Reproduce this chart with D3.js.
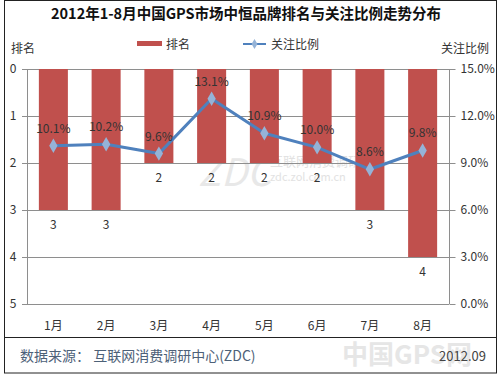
<!DOCTYPE html>
<html>
<head>
<meta charset="utf-8">
<script src="https://cdn.jsdelivr.net/npm/d3@7"></script>
<style>
  body { margin: 0; background: #fff; }
  svg { display: block; }
  text { font-family: "Noto Sans CJK SC", "DejaVu Sans", sans-serif; }
</style>
</head>
<body>
<svg id="chart" width="500" height="375"></svg>
<script>
// chart data
var months = ["1月", "2月", "3月", "4月", "5月", "6月", "7月", "8月"];
var ranks = [3, 3, 2, 2, 2, 2, 3, 4];
var shares = [10.1, 10.2, 9.6, 13.1, 10.9, 10.0, 8.6, 9.8];
var rankTicks = [0, 1, 2, 3, 4, 5];
var shareTicks = [0, 3, 6, 9, 12, 15];

var barColor = "#c0504d";
var lineColor = "#4f81bd";
var markColor = "#95b3d7";
var gridColor = "#8e8e8e";

// plot box (window.top is reserved, so no "top" here)
var plotL = 27, plotR = 449, plotT = 69, plotB = 304;

var svg = d3.select("#chart");

// frame
svg.append("rect")
  .attr("x", 4.5).attr("y", 0.5).attr("width", 492).attr("height", 372.5)
  .attr("fill", "none").attr("stroke", "#222").attr("stroke-width", 1);
svg.append("line")
  .attr("x1", 4.5).attr("x2", 496.5).attr("y1", 337.5).attr("y2", 337.5)
  .attr("stroke", "#222");

// title
svg.append("text")
  .attr("x", 246).attr("y", 19)
  .attr("text-anchor", "middle")
  .attr("font-size", 15).attr("font-weight", "bold").attr("fill", "#111")
  .attr("textLength", 390).attr("lengthAdjust", "spacingAndGlyphs")
  .text("2012年1-8月中国GPS市场中恒品牌排名与关注比例走势分布");

var x = d3.scaleBand().domain(months).range([plotL, plotR]).paddingInner(0.45).paddingOuter(0.225);
var yRank = d3.scaleLinear().domain([0, 5]).range([plotT, plotB]);
var yShare = d3.scaleLinear().domain([0, 15]).range([plotB, plotT]);

// watermarks
svg.append("text").attr("x", 198).attr("y", 186)
  .attr("font-size", 38).attr("font-family", "DejaVu Sans").attr("fill", "#e8e8e8")
  .attr("font-style", "italic").text("ZDC");
svg.append("text").attr("x", 270).attr("y", 166)
  .attr("font-size", 13).attr("fill", "#e2e2e2").text("互联网消费调研中心");
svg.append("text").attr("x", 270).attr("y", 181)
  .attr("font-size", 11).attr("fill", "#e2e2e2").text("zdc.zol.com.cn");

// grid
svg.append("g")
  .selectAll("line")
  .data(rankTicks)
  .enter().append("line")
  .attr("x1", plotL - 5).attr("x2", plotR)
  .attr("y1", function(d) { return Math.round(yRank(d)) + 0.5; })
  .attr("y2", function(d) { return Math.round(yRank(d)) + 0.5; })
  .attr("stroke", gridColor).attr("stroke-width", 1);

// bars
svg.append("g")
  .selectAll("rect")
  .data(ranks)
  .enter().append("rect")
  .attr("x", function(d, i) { return x(months[i]); })
  .attr("y", yRank(0))
  .attr("width", x.bandwidth())
  .attr("height", function(d) { return yRank(d) - yRank(0); })
  .attr("fill", barColor);

// axes
var leftAxis = svg.append("g").attr("transform", "translate(" + (plotL + 0.5) + ",0)")
  .call(d3.axisLeft(yRank).tickValues(rankTicks).tickSize(5).tickPadding(6)
    .tickFormat(d3.format("d")));
var rightAxis = svg.append("g").attr("transform", "translate(" + (plotR + 0.5) + ",0)")
  .call(d3.axisRight(yShare).tickValues(shareTicks).tickSize(6).tickPadding(5)
    .tickFormat(function(d) { return d.toFixed(1) + "%"; }));
[leftAxis, rightAxis].forEach(function(a) {
  a.selectAll("path, line").attr("stroke", gridColor);
  a.selectAll("text").attr("font-family", "DejaVu Sans").attr("font-size", 12).attr("fill", "#333");
});
leftAxis.select(".domain").attr("d", "M0," + plotT + "V" + plotB);
rightAxis.select(".domain").attr("d", "M0," + plotT + "V" + plotB);

// x labels
svg.append("g")
  .selectAll("text")
  .data(months)
  .enter().append("text")
  .attr("x", function(d) { return x(d) + x.bandwidth() / 2; })
  .attr("y", 330)
  .attr("text-anchor", "middle")
  .attr("font-size", 12).attr("fill", "#333")
  .text(function(d) { return d; });

// rank labels
svg.append("g")
  .selectAll("text")
  .data(ranks)
  .enter().append("text")
  .attr("x", function(d, i) { return x(months[i]) + x.bandwidth() / 2; })
  .attr("y", function(d) { return yRank(d) + 19; })
  .attr("text-anchor", "middle")
  .attr("font-family", "DejaVu Sans")
  .attr("font-size", 12).attr("fill", "#333")
  .text(function(d) { return d; });

// line
var line = d3.line()
  .x(function(d, i) { return x(months[i]) + x.bandwidth() / 2; })
  .y(function(d) { return yShare(d); });
svg.append("path")
  .datum(shares)
  .attr("d", line)
  .attr("fill", "none").attr("stroke", lineColor).attr("stroke-width", 3)
  .attr("stroke-linejoin", "round");

svg.append("g")
  .selectAll("path")
  .data(shares)
  .enter().append("path")
  .attr("d", d3.symbol().type(d3.symbolDiamond).size(60))
  .attr("transform", function(d, i) {
    return "translate(" + (x(months[i]) + x.bandwidth() / 2) + "," + yShare(d) + ")";
  })
  .attr("fill", markColor);

// share labels
svg.append("g")
  .selectAll("text")
  .data(shares)
  .enter().append("text")
  .attr("x", function(d, i) { return x(months[i]) + x.bandwidth() / 2; })
  .attr("y", function(d) { return yShare(d) - 13; })
  .attr("text-anchor", "middle")
  .attr("font-family", "DejaVu Sans")
  .attr("font-size", 12).attr("fill", "#333")
  .text(function(d) { return d.toFixed(1) + "%"; });

// legend
svg.append("rect").attr("x", 137).attr("y", 41).attr("width", 25).attr("height", 5).attr("fill", barColor);
svg.append("text").attr("x", 166).attr("y", 49).attr("font-size", 12).attr("fill", "#333").text("排名");
svg.append("line").attr("x1", 243).attr("x2", 266).attr("y1", 44).attr("y2", 44)
  .attr("stroke", lineColor).attr("stroke-width", 2);
svg.append("path").attr("d", d3.symbol().type(d3.symbolDiamond).size(30))
  .attr("transform", "translate(254.5,44)").attr("fill", markColor);
svg.append("text").attr("x", 271).attr("y", 49).attr("font-size", 12).attr("fill", "#333").text("关注比例");

// axis titles
svg.append("text").attr("x", 11).attr("y", 53).attr("font-size", 12).attr("fill", "#333").text("排名");
svg.append("text").attr("x", 489).attr("y", 53).attr("text-anchor", "end")
  .attr("font-size", 12).attr("fill", "#333").text("关注比例");

// footer
svg.append("text").attr("x", 20).attr("y", 361).attr("font-size", 14).attr("fill", "#4d6178")
  .text("数据来源： 互联网消费调研中心(ZDC)");
svg.append("text").attr("x", 342).attr("y", 364).attr("font-size", 26).attr("font-weight", "bold")
  .attr("fill", "#e6e6e6").text("中国GPS网");
svg.append("text").attr("x", 486).attr("y", 361).attr("text-anchor", "end")
  .attr("font-family", "Liberation Serif").attr("font-size", 13).attr("fill", "#444")
  .text("2012.09");
</script>
</body>
</html>
